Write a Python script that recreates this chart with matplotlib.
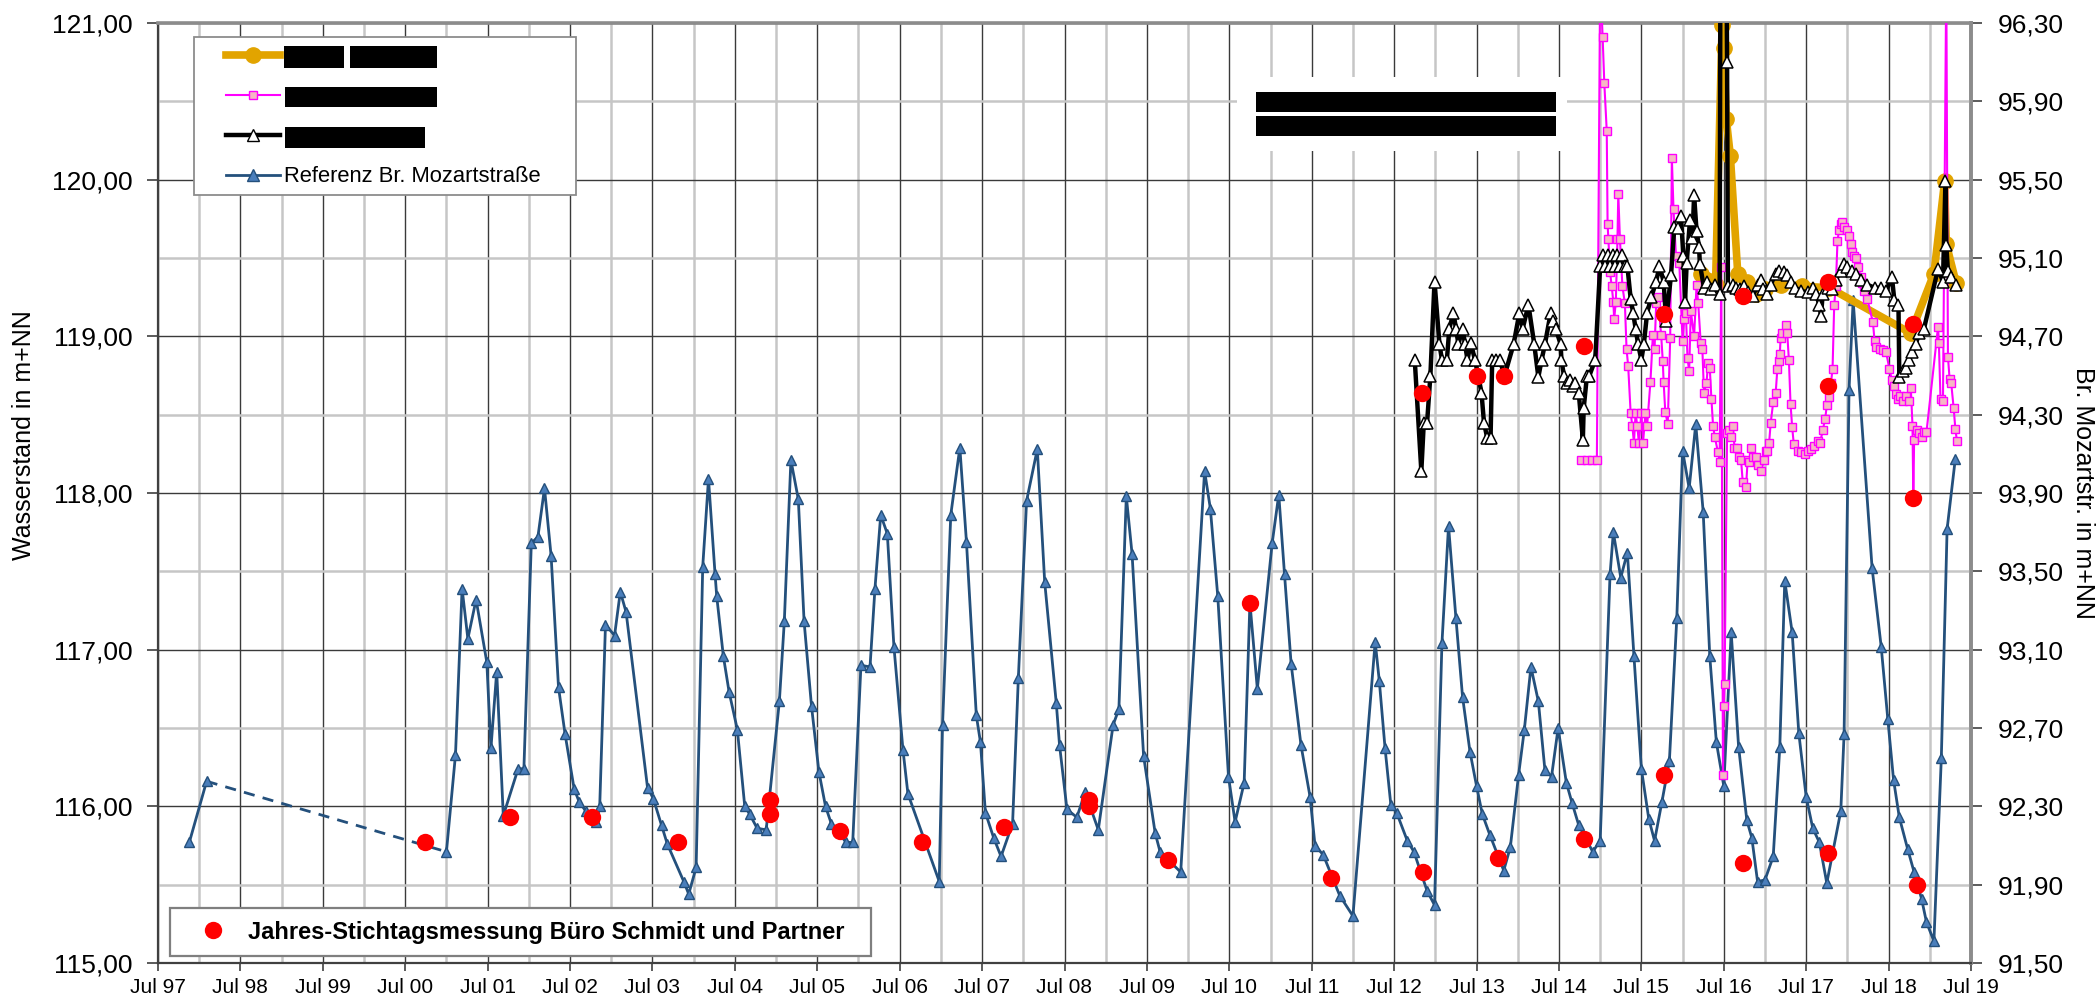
import matplotlib
matplotlib.use('Agg')
import matplotlib.pyplot as plt
from matplotlib.lines import Line2D
from matplotlib.patches import Rectangle
from matplotlib.ticker import FixedLocator, MultipleLocator, FuncFormatter

plt.rcParams['font.family'] = ['Liberation Sans', 'DejaVu Sans']

W, H = 2098, 1001

# Referenz Br. Mozartstrasse, Zeit in Jahren, Wasserstand in m+NN (linke Achse)
ref_pts = [
    (1997.88, 115.77), (1998.09, 116.16),
    (2001.00, 115.71), (2001.11, 116.33), (2001.19, 117.39), (2001.26, 117.07), (2001.36, 117.32),
    (2001.49, 116.92), (2001.54, 116.37), (2001.61, 116.86), (2001.69, 115.94), (2001.87, 116.24),
    (2001.94, 116.24), (2002.03, 117.68), (2002.11, 117.72), (2002.19, 118.03), (2002.27, 117.60),
    (2002.36, 116.76), (2002.44, 116.46), (2002.55, 116.11), (2002.61, 116.03), (2002.69, 115.97),
    (2002.77, 115.93), (2002.82, 115.90), (2002.86, 116.00), (2002.93, 117.16), (2003.04, 117.09),
    (2003.11, 117.37), (2003.18, 117.24), (2003.44, 116.12), (2003.51, 116.05), (2003.61, 115.88),
    (2003.68, 115.76), (2003.88, 115.52), (2003.94, 115.44), (2004.03, 115.61), (2004.11, 117.53),
    (2004.18, 118.09), (2004.26, 117.48), (2004.28, 117.34), (2004.36, 116.96), (2004.43, 116.73),
    (2004.53, 116.49), (2004.62, 116.00), (2004.68, 115.95), (2004.77, 115.86), (2004.88, 115.85),
    (2005.04, 116.67), (2005.10, 117.18), (2005.18, 118.21), (2005.27, 117.96), (2005.34, 117.18),
    (2005.43, 116.64), (2005.52, 116.22), (2005.60, 116.00), (2005.67, 115.89), (2005.85, 115.77),
    (2005.93, 115.77), (2006.03, 116.90), (2006.14, 116.89), (2006.20, 117.39), (2006.27, 117.86),
    (2006.35, 117.74), (2006.43, 117.02), (2006.54, 116.36), (2006.60, 116.08), (2006.98, 115.52),
    (2007.02, 116.52), (2007.12, 117.86), (2007.23, 118.29), (2007.31, 117.69), (2007.43, 116.58),
    (2007.48, 116.41), (2007.54, 115.96), (2007.64, 115.80), (2007.73, 115.68), (2007.87, 115.89),
    (2007.94, 116.82), (2008.04, 117.95), (2008.17, 118.28), (2008.26, 117.43), (2008.40, 116.66),
    (2008.44, 116.39), (2008.53, 115.98), (2008.65, 115.93), (2008.75, 116.09), (2008.91, 115.85),
    (2009.09, 116.52), (2009.16, 116.62), (2009.25, 117.98), (2009.32, 117.61), (2009.46, 116.32),
    (2009.60, 115.83), (2009.66, 115.71), (2009.91, 115.58), (2010.20, 118.14), (2010.27, 117.90),
    (2010.36, 117.34), (2010.49, 116.19), (2010.57, 115.90), (2010.68, 116.15), (2010.75, 117.30),
    (2010.84, 116.75), (2011.02, 117.68), (2011.10, 117.99), (2011.17, 117.48), (2011.25, 116.91),
    (2011.37, 116.39), (2011.48, 116.06), (2011.54, 115.75), (2011.64, 115.69), (2011.84, 115.43),
    (2012.00, 115.30), (2012.27, 117.05), (2012.32, 116.80), (2012.39, 116.37), (2012.46, 116.01),
    (2012.53, 115.96), (2012.66, 115.78), (2012.74, 115.71), (2012.90, 115.46), (2012.99, 115.37),
    (2013.08, 117.04), (2013.16, 117.79), (2013.25, 117.20), (2013.33, 116.70), (2013.42, 116.35),
    (2013.50, 116.13), (2013.57, 115.95), (2013.66, 115.82), (2013.83, 115.59), (2013.91, 115.74),
    (2014.01, 116.20), (2014.08, 116.49), (2014.16, 116.89), (2014.25, 116.67), (2014.33, 116.23),
    (2014.41, 116.19), (2014.49, 116.50), (2014.59, 116.15), (2014.66, 116.02), (2014.74, 115.88),
    (2014.91, 115.71), (2015.00, 115.78), (2015.12, 117.48), (2015.16, 117.75), (2015.25, 117.46),
    (2015.33, 117.62), (2015.41, 116.96), (2015.50, 116.24), (2015.59, 115.92), (2015.66, 115.78),
    (2015.75, 116.03), (2015.84, 116.29), (2015.93, 117.20), (2016.00, 118.27), (2016.08, 118.03),
    (2016.16, 118.44), (2016.25, 117.88), (2016.33, 116.96), (2016.41, 116.41), (2016.50, 116.13),
    (2016.59, 117.11), (2016.68, 116.38), (2016.78, 115.91), (2016.84, 115.80), (2016.91, 115.52),
    (2017.00, 115.53), (2017.10, 115.68), (2017.18, 116.38), (2017.24, 117.44), (2017.33, 117.11),
    (2017.41, 116.47), (2017.50, 116.06), (2017.58, 115.86), (2017.66, 115.77), (2017.75, 115.51),
    (2017.92, 115.97), (2017.96, 116.46), (2018.02, 118.66), (2018.07, 119.23), (2018.30, 117.52),
    (2018.41, 117.02), (2018.49, 116.56), (2018.56, 116.17), (2018.63, 115.93), (2018.73, 115.73),
    (2018.81, 115.58), (2018.90, 115.41), (2018.96, 115.26), (2019.05, 115.14), (2019.14, 116.31),
    (2019.21, 117.77), (2019.31, 118.22),
]
# Luecke 1998 - 2000 wird gestrichelt verbunden
gap_after = 1

# Messstelle A (gelb)
well_a_pts = [
    (2016.22, 119.40), (2016.30, 119.36), (2016.40, 119.33), (2016.48, 120.99), (2016.50, 120.84),
    (2016.53, 120.39), (2016.58, 120.15), (2016.67, 119.40), (2016.78, 119.35), (2016.89, 119.27),
    (2017.00, 119.30), (2017.20, 119.33), (2017.45, 119.32), (2017.78, 119.31), (2018.77, 119.02),
    (2019.05, 119.40), (2019.18, 119.99), (2019.20, 119.59), (2019.32, 119.34),
]

# Messstelle B (magenta)
well_b_pts = [
    (2014.77, 118.21), (2014.84, 118.21), (2014.90, 118.21), (2014.96, 118.21), (2015.00, 121.30),
    (2015.03, 120.91), (2015.05, 120.62), (2015.08, 120.31), (2015.09, 119.72), (2015.10, 119.62),
    (2015.12, 119.41), (2015.14, 119.32), (2015.16, 119.22), (2015.17, 119.11), (2015.19, 119.22),
    (2015.21, 119.62), (2015.22, 119.91), (2015.24, 119.62), (2015.27, 119.32), (2015.30, 119.21),
    (2015.32, 118.92), (2015.34, 118.81), (2015.37, 118.51), (2015.39, 118.43), (2015.41, 118.32),
    (2015.43, 118.51), (2015.45, 118.43), (2015.47, 118.32), (2015.50, 118.51), (2015.52, 118.32),
    (2015.55, 118.51), (2015.57, 118.43), (2015.61, 118.71), (2015.64, 119.01), (2015.66, 118.92),
    (2015.68, 119.21), (2015.70, 119.25), (2015.74, 119.01), (2015.76, 118.84), (2015.77, 118.71),
    (2015.79, 118.52), (2015.82, 118.44), (2015.85, 118.99), (2015.87, 120.14), (2015.89, 119.81),
    (2015.92, 119.51), (2015.96, 119.47), (2016.00, 118.97), (2016.02, 119.11), (2016.04, 119.15),
    (2016.06, 118.86), (2016.08, 118.78), (2016.10, 119.16), (2016.14, 119.00), (2016.17, 119.33),
    (2016.19, 119.21), (2016.22, 118.96), (2016.24, 118.92), (2016.26, 118.64), (2016.29, 118.70),
    (2016.31, 118.83), (2016.33, 118.80), (2016.35, 118.60), (2016.37, 118.43), (2016.39, 118.36),
    (2016.43, 118.26), (2016.45, 118.20), (2016.47, 119.44), (2016.49, 116.20), (2016.50, 116.64),
    (2016.51, 116.78), (2016.54, 118.38), (2016.56, 118.40), (2016.59, 118.36), (2016.61, 118.43),
    (2016.63, 118.29), (2016.66, 118.29), (2016.69, 118.23), (2016.71, 118.21), (2016.73, 118.07),
    (2016.77, 118.04), (2016.79, 118.21), (2016.81, 118.20), (2016.83, 118.29), (2016.86, 118.23),
    (2016.89, 118.23), (2016.92, 118.18), (2016.95, 118.14), (2016.99, 118.21), (2017.01, 118.27),
    (2017.03, 118.27), (2017.05, 118.32), (2017.07, 118.45), (2017.10, 118.58), (2017.13, 118.64),
    (2017.15, 118.79), (2017.17, 118.84), (2017.18, 118.89), (2017.19, 118.99), (2017.21, 119.02),
    (2017.25, 119.07), (2017.27, 119.02), (2017.29, 118.85), (2017.31, 118.57), (2017.33, 118.42),
    (2017.35, 118.31), (2017.40, 118.27), (2017.44, 118.26), (2017.48, 118.25), (2017.52, 118.27),
    (2017.56, 118.28), (2017.60, 118.30), (2017.64, 118.33), (2017.67, 118.32), (2017.70, 118.40),
    (2017.73, 118.47), (2017.75, 118.56), (2017.78, 118.61), (2017.80, 118.70), (2017.82, 118.79),
    (2017.84, 119.20), (2017.86, 119.32), (2017.88, 119.61), (2017.90, 119.68), (2017.92, 119.72),
    (2017.94, 119.73), (2017.96, 119.70), (2017.99, 119.68), (2018.02, 119.64), (2018.04, 119.59),
    (2018.06, 119.54), (2018.08, 119.51), (2018.10, 119.50), (2018.13, 119.44), (2018.16, 119.38),
    (2018.18, 119.34), (2018.20, 119.29), (2018.24, 119.24), (2018.31, 119.09), (2018.33, 118.97),
    (2018.35, 118.93), (2018.39, 118.92), (2018.43, 118.91), (2018.47, 118.90), (2018.51, 118.79),
    (2018.54, 118.72), (2018.56, 118.68), (2018.59, 118.63), (2018.61, 118.60), (2018.64, 118.62),
    (2018.67, 118.59), (2018.71, 118.62), (2018.75, 118.59), (2018.77, 118.67), (2018.79, 118.43),
    (2018.80, 117.97), (2018.81, 118.34), (2018.84, 118.40), (2018.87, 118.38), (2018.90, 118.36),
    (2018.93, 118.39), (2018.96, 118.39), (2019.10, 119.06), (2019.11, 118.96), (2019.13, 118.60),
    (2019.16, 118.59), (2019.20, 121.30), (2019.22, 118.87), (2019.24, 118.73), (2019.26, 118.70),
    (2019.29, 118.54), (2019.31, 118.41), (2019.33, 118.33),
]

# Messstelle C (schwarz)
well_c_pts = [
    (2012.75, 118.85), (2012.83, 118.14), (2012.86, 118.45), (2012.90, 118.45), (2012.94, 118.75),
    (2012.99, 119.35), (2013.05, 118.95), (2013.08, 118.85), (2013.14, 118.85), (2013.17, 119.05),
    (2013.22, 119.15), (2013.25, 119.05), (2013.28, 118.95), (2013.33, 119.05), (2013.36, 118.95),
    (2013.39, 118.85), (2013.43, 118.96), (2013.48, 118.85), (2013.52, 118.75), (2013.56, 118.64),
    (2013.59, 118.45), (2013.63, 118.35), (2013.67, 118.35), (2013.69, 118.85), (2013.74, 118.85),
    (2013.78, 118.85), (2013.84, 118.75), (2013.95, 118.95), (2014.02, 119.15), (2014.06, 119.05),
    (2014.13, 119.20), (2014.20, 118.95), (2014.25, 118.74), (2014.29, 118.85), (2014.33, 118.95),
    (2014.40, 119.15), (2014.43, 119.10), (2014.46, 119.05), (2014.52, 118.95), (2014.53, 118.85),
    (2014.56, 118.75), (2014.60, 118.70), (2014.63, 118.72), (2014.67, 118.68), (2014.70, 118.70),
    (2014.74, 118.64), (2014.79, 118.34), (2014.80, 118.54), (2014.84, 118.75), (2014.87, 118.75),
    (2014.94, 118.85), (2015.00, 119.45), (2015.03, 119.52), (2015.06, 119.45), (2015.09, 119.52),
    (2015.12, 119.45), (2015.15, 119.52), (2015.18, 119.45), (2015.21, 119.52), (2015.24, 119.45),
    (2015.27, 119.52), (2015.30, 119.45), (2015.33, 119.45), (2015.37, 119.24), (2015.40, 119.15),
    (2015.43, 119.05), (2015.46, 118.95), (2015.50, 118.85), (2015.53, 118.95), (2015.57, 119.15),
    (2015.62, 119.25), (2015.68, 119.35), (2015.72, 119.45), (2015.77, 119.35), (2015.80, 119.10),
    (2015.86, 119.39), (2015.90, 119.70), (2015.95, 119.69), (2015.98, 119.77), (2016.01, 119.51),
    (2016.03, 119.22), (2016.05, 119.47), (2016.09, 119.74), (2016.12, 119.63), (2016.14, 119.90),
    (2016.17, 119.67), (2016.20, 119.57), (2016.21, 119.46), (2016.26, 119.31), (2016.30, 119.35),
    (2016.35, 119.30), (2016.39, 119.33), (2016.45, 119.27), (2016.46, 121.60), (2016.53, 121.60),
    (2016.54, 120.75), (2016.55, 119.32), (2016.61, 119.33), (2016.65, 119.31), (2016.70, 119.30),
    (2016.75, 119.32), (2016.80, 119.28), (2016.85, 119.26), (2016.92, 119.33), (2016.95, 119.36),
    (2016.98, 119.30), (2017.03, 119.27), (2017.07, 119.33), (2017.13, 119.40), (2017.17, 119.42),
    (2017.23, 119.41), (2017.27, 119.39), (2017.31, 119.35), (2017.37, 119.31), (2017.44, 119.29),
    (2017.52, 119.28), (2017.58, 119.31), (2017.62, 119.27), (2017.66, 119.20), (2017.68, 119.13),
    (2017.70, 119.27), (2017.76, 119.31), (2017.81, 119.30), (2017.86, 119.36), (2017.92, 119.42),
    (2017.96, 119.46), (2018.00, 119.44), (2018.05, 119.42), (2018.10, 119.40), (2018.16, 119.36),
    (2018.24, 119.33), (2018.33, 119.31), (2018.41, 119.31), (2018.47, 119.29), (2018.54, 119.38),
    (2018.57, 119.23), (2018.62, 119.20), (2018.63, 118.74), (2018.67, 118.78), (2018.71, 118.80),
    (2018.75, 118.85), (2018.79, 118.90), (2018.83, 118.95), (2018.87, 119.02), (2018.93, 119.05),
    (2019.10, 119.43), (2019.16, 119.35), (2019.19, 119.99), (2019.20, 119.58), (2019.22, 119.42),
    (2019.26, 119.38), (2019.32, 119.33),
]

# Jahres-Stichtagsmessung Buero Schmidt und Partner
stichtag_pts = [
    (2000.74, 115.77), (2001.77, 115.93), (2002.77, 115.93), (2003.81, 115.77), (2004.93, 116.04),
    (2004.93, 115.95), (2005.78, 115.84), (2006.77, 115.77), (2007.77, 115.87), (2008.80, 116.04),
    (2008.80, 116.00), (2009.75, 115.66), (2010.75, 117.30), (2011.73, 115.54), (2012.85, 115.58),
    (2013.76, 115.67), (2014.80, 115.79), (2015.78, 116.20), (2016.73, 115.64), (2017.77, 115.70),
    (2018.85, 115.50),
    (2012.84, 118.64), (2013.51, 118.75), (2013.83, 118.75), (2014.80, 118.94), (2015.78, 119.14),
    (2016.73, 119.26), (2017.77, 119.35), (2017.77, 118.68), (2018.80, 119.08), (2018.80, 117.97),
]

year_ticks = list(range(1997, 2020))
left_ticks = [115, 116, 117, 118, 119, 120, 121]
right_ticks = [91.5, 91.9, 92.3, 92.7, 93.1, 93.5, 93.9, 94.3, 94.7, 95.1, 95.5, 95.9, 96.3]

ref_label = 'Referenz Br. Mozartstraße'
stichtag_label = 'Jahres-Stichtagsmessung Büro Schmidt und Partner'

BLUE = '#24507c'
BLUE_FILL = '#4a7ebb'
GOLD = '#e2a400'
MAGENTA = '#ff00ff'
PINK_FILL = '#f6b6c4'


def split(pts):
    return [p[0] for p in pts], [p[1] for p in pts]


def comma(v, _pos):
    return f'{v:.2f}'.replace('.', ',')


fig = plt.figure(figsize=(W / 100, H / 100), dpi=100)
ax = fig.add_axes([158 / W, 1 - 963 / H, (1971 - 158) / W, (963 - 23) / H])


def ax_x(px):
    return (px - 158) / 1813


def ax_y(py):
    return (963 - py) / 940


def fig_box(x0, y0, x1, y1, **kw):
    r = Rectangle((x0 / W, 1 - y1 / H), (x1 - x0) / W, (y1 - y0) / H,
                  transform=fig.transFigure, **kw)
    fig.add_artist(r)


# Referenz
rt, rh = split(ref_pts)
ref_style = dict(color=BLUE, lw=2.0, marker='^', ms=7.5, mfc=BLUE_FILL, mec=BLUE, mew=1.0, zorder=3)
ax.plot(rt[:gap_after + 1], rh[:gap_after + 1], **ref_style)
ax.plot(rt[gap_after + 1:], rh[gap_after + 1:], **ref_style)
ax.plot(rt[gap_after:gap_after + 2], rh[gap_after:gap_after + 2], color=BLUE, lw=2.0,
        ls=(0, (4, 3)), zorder=2.9)

at, ah = split(well_a_pts)
ax.plot(at, ah, color=GOLD, lw=5.5, marker='o', ms=11, mfc=GOLD, mec=GOLD, zorder=4)

bt, bh = split(well_b_pts)
ax.plot(bt, bh, color=MAGENTA, lw=1.5, marker='s', ms=5.5, mfc=PINK_FILL, mec=MAGENTA,
        mew=1.0, zorder=5)

ct, ch = split(well_c_pts)
ax.plot(ct, ch, color='black', lw=3.2, marker='^', ms=8.5, mfc='white', mec='black',
        mew=1.1, zorder=6)

st, sh = split(stichtag_pts)
ax.plot(st, sh, ls='none', marker='o', ms=12.5, color='#ff0000', mec='none', zorder=8)

# Achsen
ax.set_xlim(1997.5, 2019.5)
ax.set_ylim(115, 121)
ax.xaxis.set_major_locator(FixedLocator([y + 0.5 for y in year_ticks]))
ax.xaxis.set_minor_locator(FixedLocator(year_ticks[1:]))
ax.xaxis.set_major_formatter(FuncFormatter(lambda v, _p: 'Jul %02d' % (int(v) % 100)))
ax.yaxis.set_major_locator(FixedLocator(left_ticks))
ax.yaxis.set_minor_locator(MultipleLocator(0.5))
ax.yaxis.set_major_formatter(FuncFormatter(comma))

ax.set_axisbelow(True)
ax.grid(which='minor', color='#c6c6c6', lw=1.8)
ax.grid(which='major', color='#3a3a3a', lw=1.0)

ax.tick_params(axis='x', which='major', direction='out', length=6, width=1.2,
               labelsize=15, pad=5, color='#404040')
ax.tick_params(axis='y', which='major', direction='out', length=8, width=1.2,
               labelsize=19, pad=10, color='#404040')
ax.tick_params(which='minor', length=0)

for side in ('left', 'bottom'):
    ax.spines[side].set_color('#404040')
    ax.spines[side].set_linewidth(1.6)
for side in ('top', 'right'):
    ax.spines[side].set_color('#8c8c8c')
    ax.spines[side].set_linewidth(2.6)

ax2 = ax.secondary_yaxis('right', functions=(lambda y: 91.5 + (y - 115) * 0.8,
                                             lambda r: 115 + (r - 91.5) / 0.8))
ax2.yaxis.set_major_locator(FixedLocator(right_ticks))
ax2.yaxis.set_major_formatter(FuncFormatter(comma))
ax2.tick_params(axis='y', direction='out', length=8, width=1.2, labelsize=19, pad=11,
                color='#404040')
ax2.spines['right'].set_color('#8c8c8c')
ax2.spines['right'].set_linewidth(2.6)

# Achsentitel
ax.text(ax_x(24), 0.562, 'Wasserstand in m+NN', transform=ax.transAxes, rotation=90,
        ha='center', va='center', fontsize=18)
ax.text(ax_x(2083), 0.5, 'Br. Mozartstr. in m+NN', transform=ax.transAxes, rotation=270,
        ha='center', va='center', fontsize=18)

# Legende oben links
frame_top = Rectangle((ax_x(194), ax_y(195)), ax_x(576) - ax_x(194), ax_y(37) - ax_y(195),
                      transform=ax.transAxes, fc='white', ec='#8c8c8c', lw=1.3, zorder=9)
ax.add_patch(frame_top)
handles = [
    Line2D([], [], color=GOLD, lw=5.5, marker='o', ms=11, mfc=GOLD, mec=GOLD),
    Line2D([], [], color=MAGENTA, lw=1.5, marker='s', ms=6, mfc=PINK_FILL, mec=MAGENTA),
    Line2D([], [], color='black', lw=3.2, marker='^', ms=8.5, mfc='white', mec='black'),
    Line2D([], [], color=BLUE, lw=2.0, marker='^', ms=8, mfc=BLUE_FILL, mec=BLUE),
]
leg1 = ax.legend(handles, [' ', ' ', ' ', ref_label], loc='center left',
                 bbox_to_anchor=(ax_x(226), ax_y(117)), frameon=False, borderpad=0,
                 borderaxespad=0, handlelength=2.46, handletextpad=0.18, labelspacing=0.86,
                 fontsize=15.8)
leg1.set_zorder(10)
ax.add_artist(leg1)

# Legende unten
frame_bot = Rectangle((ax_x(169.5), ax_y(956.3)), ax_x(871.5) - ax_x(169.5),
                      ax_y(907.7) - ax_y(956.3), transform=ax.transAxes, fc='white',
                      ec='#7f7f7f', lw=1.6, zorder=9)
ax.add_patch(frame_bot)
leg2 = ax.legend([Line2D([], [], ls='none', marker='o', ms=12.5, color='#ff0000', mec='none')],
                 [stichtag_label], loc='center left', bbox_to_anchor=(ax_x(197), ax_y(932)),
                 frameon=False, borderpad=0, borderaxespad=0, handlelength=1.38,
                 handletextpad=0.8, prop=dict(weight='bold', size=17))
leg2.set_zorder(10)

# geschwaerzte Beschriftungen
bars = [(283.6, 46.5, 344.2, 68.3), (350.4, 46.5, 437.3, 68.3), (285, 87, 437, 107),
        (285, 126.5, 425, 148)]
for x0, y0, x1, y1 in bars:
    fig_box(x0, y0, x1, y1, fc='black', ec='none', zorder=12)
fig_box(1237, 77, 1567, 151, fc='white', ec='none', zorder=11)
fig_box(1256, 92, 1556, 112, fc='black', ec='none', zorder=12)
fig_box(1256, 116, 1556, 136, fc='black', ec='none', zorder=12)

fig.savefig('out.png', dpi=100)
